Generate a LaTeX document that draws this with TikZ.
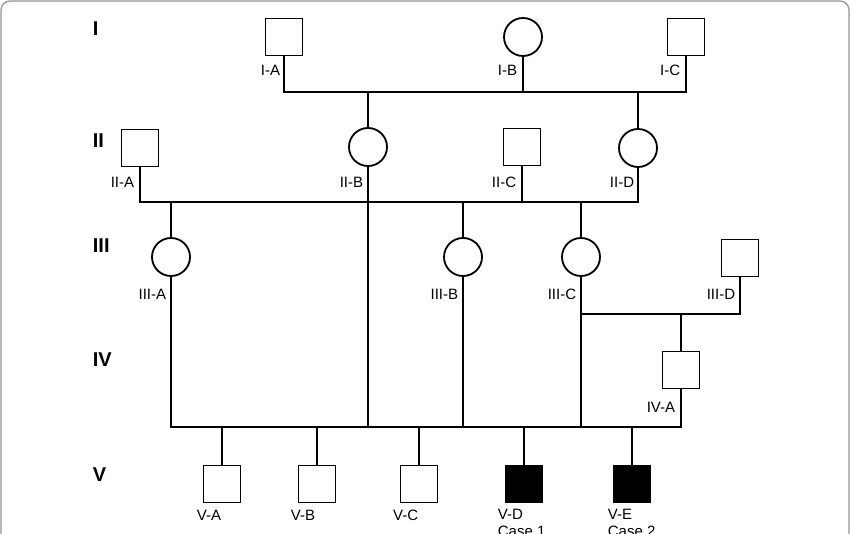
\documentclass[tikz,border=0pt]{standalone}
\usepackage{fontspec}
\setmainfont{Liberation Sans}
\begin{document}
\begin{tikzpicture}[x=1pt,y=-1pt,line width=1.8pt,
  male/.style={draw,rectangle,minimum size=37pt,inner sep=0pt},
  female/.style={draw,circle,minimum size=38pt,inner sep=0pt},
  affected/.style={male,fill=black},
  lbl/.style={anchor=base east,inner sep=0pt,font=\fontsize{15}{17}\selectfont},
  gen/.style={anchor=west,inner sep=0pt,font=\fontsize{20}{22}\selectfont\bfseries}]
  \useasboundingbox (0,0) rectangle (850,534);
  \draw[gray!85,line width=1.2pt,rounded corners=9pt] (1,1) rectangle (849,580);

  % Generation labels
  \node[gen] (gI)   at (92,29)  {I};
  \node[gen] (gII)  at (92,141) {II};
  \node[gen] (gIII) at (92,246) {III};
  \node[gen] (gIV)  at (92,360) {IV};
  \node[gen] (gV)   at (92,475) {V};

  % Generation I
  \node[male]   (IA) at (284,37) {};
  \node[female] (IB) at (523,37) {};
  \node[male]   (IC) at (686,37) {};
  \coordinate   (mI) at (523,92);
  \node[lbl] (IAl) at (281,76) {I-A};
  \node[lbl] (IBl) at (518,76) {I-B};
  \node[lbl] (ICl) at (681,76) {I-C};
  \draw (IA.south) |- (mI) -| (IC.south);
  \draw (IB) -- (mI);

  % Generation II
  \node[male]   (IIA) at (140,148) {};
  \node[female] (IIB) at (368,147) {};
  \node[male]   (IIC) at (522,147) {};
  \node[female] (IID) at (638,148) {};
  \coordinate   (mII) at (522,202);
  \node[lbl] (IIAl) at (135,188) {II-A};
  \node[lbl] (IIBl) at (364,188) {II-B};
  \node[lbl] (IICl) at (517,188) {II-C};
  \node[lbl] (IIDl) at (635,188) {II-D};
  \draw (IIB) -- (IIB |- mI);
  \draw (IID) -- (IID |- mI);
  \draw (IIA.south) |- (mII) -| (IID.south);
  \draw (IIC) -- (mII);

  % Generation III
  \node[female] (IIIA) at (171,257) {};
  \node[female] (IIIB) at (463,257) {};
  \node[female] (IIIC) at (581,257) {};
  \node[male]   (IIID) at (740,258) {};
  \coordinate   (mIII) at (681,314);
  \node[lbl] (IIIAl) at (167,299) {III-A};
  \node[lbl] (IIIBl) at (459,299) {III-B};
  \node[lbl] (IIICl) at (577,299) {III-C};
  \node[lbl] (IIIDl) at (736,299) {III-D};
  \draw (IIIA) -- (IIIA |- mII);
  \draw (IIIB) -- (IIIB |- mII);
  \draw (IIIC) -- (IIIC |- mII);
  \draw (IIIC |- mIII) -| (IIID.south);

  % Generation IV
  \node[male] (IVA) at (681,370) {};
  \node[lbl] (IVAl) at (676,412) {IV-A};
  \draw (IVA) -- (IVA |- mIII);

  % Generation V
  \node[male]     (VA) at (222,484) {};
  \node[male]     (VB) at (317,484) {};
  \node[male]     (VC) at (419,484) {};
  \node[affected] (VD) at (524,484) {};
  \node[affected] (VE) at (632,484) {};
  \coordinate     (mV) at (368,427);
  \node[lbl] (VAl) at (222,520) {V-A};
  \node[lbl] (VBl) at (316,520) {V-B};
  \node[lbl] (VCl) at (419,520) {V-C};
  \node[lbl,anchor=base west] (VDl) at (497,519) {V-D};
  \node[lbl,anchor=base west] (VDc) at (497,536) {Case 1};
  \node[lbl,anchor=base west] (VEl) at (607,519) {V-E};
  \node[lbl,anchor=base west] (VEc) at (607,536) {Case 2};
  \draw (IIIA.south) |- (mV) -| (IVA.south);
  \draw (IIB) -- (IIB |- mV);
  \draw (IIIB) -- (IIIB |- mV);
  \draw (IIIC) -- (IIIC |- mV);
  \foreach \n in {VA,VB,VC,VD,VE}
    \draw (\n) -- (\n |- mV);
\end{tikzpicture}
\end{document}
